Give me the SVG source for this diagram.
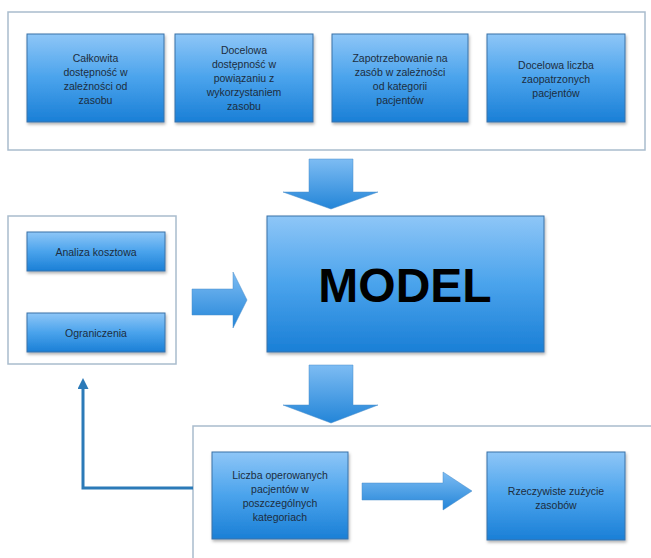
<svg xmlns="http://www.w3.org/2000/svg" width="651" height="558" viewBox="0 0 651 558">
<defs>
<linearGradient id="gBox" x1="0" y1="0" x2="0" y2="1">
<stop offset="0" stop-color="#8ec6f7"/>
<stop offset="0.5" stop-color="#4aa3ec"/>
<stop offset="1" stop-color="#1a7fd6"/>
</linearGradient>
<linearGradient id="gArr" x1="0" y1="0" x2="0" y2="1">
<stop offset="0" stop-color="#7dbcf3"/>
<stop offset="1" stop-color="#2385d8"/>
</linearGradient>
<filter id="sh" x="-10%" y="-10%" width="130%" height="130%">
<feDropShadow dx="1" dy="2" stdDeviation="1.5" flood-color="#000" flood-opacity="0.3"/>
</filter>
<marker id="ah" markerWidth="11" markerHeight="11" refX="5" refY="5.5" orient="auto" markerUnits="userSpaceOnUse">
<path d="M0,0 L11,5.5 L0,11 Z" fill="#2b7ab8"/>
</marker>
</defs>
<style>
.cont{fill:#fff;stroke:#a9bccd;stroke-width:1.5}
.box{fill:url(#gBox);stroke:#3a72a8;stroke-width:1;filter:url(#sh)}
.arr{fill:url(#gArr);stroke:#4a8cc8;stroke-width:0.5}
.t{font-family:"Liberation Sans",Arial,sans-serif;font-size:10.5px;fill:#1c2d40;text-anchor:middle}
.big{font-family:"Liberation Sans",Arial,sans-serif;font-size:48px;font-weight:bold;fill:#000;text-anchor:middle}
</style>
<rect width="651" height="558" fill="#fff"/>
<rect id="top-container" class="cont" x="8" y="12" width="637" height="138"/>
<rect id="left-container" class="cont" x="8" y="216" width="168" height="148"/>
<rect id="bottom-container" class="cont" x="193" y="426" width="470" height="150"/>

<g id="connectors">
<path class="arr" d="M309,159 H353 V192 H378 L331,209 L283,192 H309 Z"/>
<path class="arr" d="M309,365 H353 V405 H378 L331,423 L283,405 H309 Z"/>
<path class="arr" d="M192,289 H233 V272 L247,300 L233,328 V315 H192 Z"/>
<path class="arr" d="M362,483 H443 V472 L472,491 L443,510 V500 H362 Z"/>
<path d="M193,488 H83 V384" fill="none" stroke="#2b7ab8" stroke-width="3" marker-end="url(#ah)"/>
</g>

<g id="n1">
<rect class="box" x="27" y="34" width="137" height="88"/>
<text class="t" x="95.5" y="62">Całkowita</text>
<text class="t" x="95.5" y="76">dostępność w</text>
<text class="t" x="95.5" y="90">zależności od</text>
<text class="t" x="95.5" y="104">zasobu</text>
</g>
<g id="n2">
<rect class="box" x="175" y="34" width="138" height="88"/>
<text class="t" x="244" y="54">Docelowa</text>
<text class="t" x="244" y="68">dostępność w</text>
<text class="t" x="244" y="82">powiązaniu z</text>
<text class="t" x="244" y="96">wykorzystaniem</text>
<text class="t" x="244" y="110">zasobu</text>
</g>
<g id="n3">
<rect class="box" x="332" y="34" width="136" height="88"/>
<text class="t" x="400" y="62">Zapotrzebowanie na</text>
<text class="t" x="400" y="76">zasób w zależności</text>
<text class="t" x="400" y="90">od kategorii</text>
<text class="t" x="400" y="104">pacjentów</text>
</g>
<g id="n4">
<rect class="box" x="487" y="34" width="138" height="88"/>
<text class="t" x="556" y="69">Docelowa liczba</text>
<text class="t" x="556" y="83">zaopatrzonych</text>
<text class="t" x="556" y="97">pacjentów</text>
</g>
<g id="n5">
<rect class="box" x="27" y="232" width="138" height="39"/>
<text class="t" x="96" y="256">Analiza kosztowa</text>
</g>
<g id="n6">
<rect class="box" x="27" y="313" width="138" height="39"/>
<text class="t" x="96" y="337">Ograniczenia</text>
</g>
<g id="model">
<rect class="box" x="267" y="216" width="277" height="136"/>
<text class="big" x="405" y="302">MODEL</text>
</g>
<g id="n7">
<rect class="box" x="212" y="452" width="136" height="87"/>
<text class="t" x="280" y="479">Liczba operowanych</text>
<text class="t" x="280" y="493">pacjentów w</text>
<text class="t" x="280" y="507">poszczególnych</text>
<text class="t" x="280" y="521">kategoriach</text>
</g>
<g id="n8">
<rect class="box" x="487" y="452" width="138" height="88"/>
<text class="t" x="556" y="495">Rzeczywiste zużycie</text>
<text class="t" x="556" y="509">zasobów</text>
</g>
</svg>
